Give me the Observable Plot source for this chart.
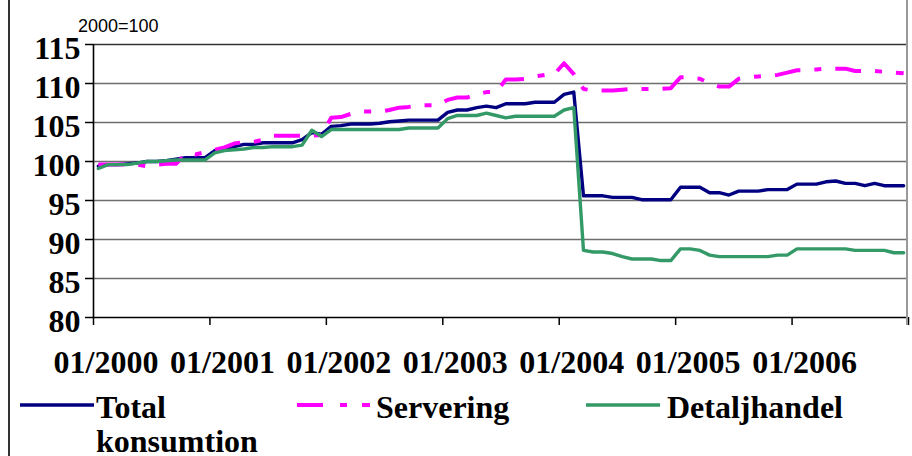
<!DOCTYPE html>
<html><head><meta charset="utf-8">
<script src="https://cdn.jsdelivr.net/npm/d3@7"></script>
<script src="https://cdn.jsdelivr.net/npm/@observablehq/plot@0.6"></script>
<style>
body{margin:0;background:#fff;}
#wrap{position:relative;width:912px;height:456px;overflow:hidden;background:#fff;}
.vline{position:absolute;width:2px;}
#unit{position:absolute;left:78px;top:17px;font:18px/18px "Liberation Sans",Arial,sans-serif;color:#000;}
.leg{position:absolute;top:390px;font:bold 32px/34px "Liberation Serif","Times New Roman",serif;color:#000;}
.sw{position:absolute;top:400px;}
</style></head><body>
<div id="wrap">
  <div id="chart"></div>
  <div class="vline" style="left:8px;top:0;height:456px;background:#333"></div>
  <div class="vline" style="left:906px;top:0;height:325px;background:#999"></div>
  <div id="unit">2000=100</div>
</div>
<script>
const seriesNames = ["Total konsumtion", "Servering", "Detaljhandel"];
const seriesColors = ["#000080", "#ff00ff", "#339966"];
const xLabels = ["01/2000","01/2001","01/2002","01/2003","01/2004","01/2005","01/2006"];
const yTicks = [80, 85, 90, 95, 100, 105, 110, 115];

const total = [
99.4, 99.6, 99.6, 99.7, 99.8, 100.0, 100.0, 100.1, 100.3, 100.5, 100.5, 100.5,
101.4, 101.7, 101.9, 102.2, 102.2, 102.4, 102.4, 102.4, 102.4, 102.8, 103.7, 103.5,
104.5, 104.6, 104.8, 104.8, 104.8, 104.9, 105.1, 105.2, 105.3, 105.3, 105.3, 105.3,
106.3, 106.6, 106.6, 106.9, 107.1, 106.9, 107.4, 107.4, 107.4, 107.6, 107.6, 107.6,
108.6, 108.9, 95.6, 95.6, 95.6, 95.4, 95.4, 95.4, 95.1, 95.1, 95.1, 95.1,
96.7, 96.7, 96.7, 96.0, 96.0, 95.7, 96.2, 96.2, 96.2, 96.4, 96.4, 96.4,
97.1, 97.1, 97.1, 97.4, 97.5, 97.2, 97.2, 96.9, 97.2, 96.9, 96.9, 96.9];

const servering = [
99.6, 99.6, 99.6, 99.6, 99.6, 99.4, 99.6, 99.7, 99.7, 101.0, 100.9, 101.2,
101.5, 101.8, 102.3, 102.5, 102.5, 102.8, 103.3, 103.3, 103.3, 103.3, 103.3, 103.4,
105.6, 105.7, 106.1, 106.4, 106.4, 106.4, 106.6, 106.9, 107.0, 107.2, 107.2, 107.2,
107.9, 108.2, 108.2, 108.6, 108.9, 108.9, 110.5, 110.5, 110.6, 110.9, 111.1, 111.2,
112.6, 111.2, 109.3, 109.1, 109.1, 109.1, 109.2, 109.3, 109.3, 109.3, 109.3, 109.4,
110.8, 110.8, 110.6, 110.0, 109.6, 109.6, 110.6, 110.8, 110.9, 111.0, 111.1, 111.4,
111.7, 111.7, 111.8, 111.9, 111.9, 111.9, 111.6, 111.6, 111.6, 111.5, 111.4, 111.3];

const detaljhandel = [
99.1, 99.6, 99.6, 99.6, 99.8, 100.0, 100.0, 100.1, 100.2, 100.2, 100.2, 100.2,
101.1, 101.4, 101.5, 101.6, 101.8, 101.8, 101.9, 101.9, 101.9, 102.1, 104.0, 103.2,
104.1, 104.1, 104.1, 104.1, 104.1, 104.1, 104.1, 104.1, 104.3, 104.3, 104.3, 104.3,
105.5, 105.9, 105.9, 105.9, 106.2, 105.9, 105.6, 105.8, 105.8, 105.8, 105.8, 105.8,
106.6, 106.9, 88.6, 88.4, 88.4, 88.2, 87.8, 87.5, 87.5, 87.5, 87.3, 87.3,
88.8, 88.8, 88.6, 88.0, 87.8, 87.8, 87.8, 87.8, 87.8, 87.8, 88.0, 88.0,
88.8, 88.8, 88.8, 88.8, 88.8, 88.8, 88.6, 88.6, 88.6, 88.6, 88.3, 88.3];

const nMonths = total.length;
const rows = arr => arr.map((v, i) => ({m: i + 0.5, v}));
const tickPos = d3.range(0, nMonths + 1, 12);
const labelPos = xLabels.map((_, k) => k * 12);
const dash = "26,14,7,14";

const chart = Plot.plot({
  width: 912, height: 380,
  marginTop: 44, marginBottom: 63, marginLeft: 93, marginRight: 4,
  style: {fontFamily: "'Liberation Serif','Times New Roman',serif", fontSize: "32px", fontWeight: "bold", color: "#000", background: "transparent", overflow: "visible"},
  x: {domain: [0, nMonths], axis: null},
  y: {domain: [80, 115], axis: null},
  marks: [
    Plot.ruleY(yTicks.filter(t => t > 80 && t < 115), {stroke: "#6e6e6e", strokeWidth: 1.6}),
    Plot.ruleY([115], {stroke: "#333", strokeWidth: 1.6}),
    Plot.axisY(yTicks, {label: null, tickSize: 8, tickFormat: () => "", strokeWidth: 1.5}),
    Plot.axisY(yTicks, {label: null, tickSize: 0, tickPadding: 13, dy: 4}),
    Plot.axisX(tickPos, {label: null, tickSize: 8, tickFormat: () => "", strokeWidth: 1.5}),
    Plot.axisX(labelPos, {label: null, tickSize: 0, tickPadding: 33, dx: 12.5, tickFormat: d => xLabels[d / 12]}),
    Plot.line(rows(total), {x: "m", y: "v", stroke: seriesColors[0], strokeWidth: 3.4}),
    Plot.line(rows(servering), {x: "m", y: "v", stroke: seriesColors[1], strokeWidth: 4, strokeDasharray: dash, strokeLinecap: "butt"}),
    Plot.line(rows(detaljhandel), {x: "m", y: "v", stroke: seriesColors[2], strokeWidth: 3.4}),
    Plot.ruleY([80], {stroke: "#000", strokeWidth: 1.6}),
    Plot.ruleX([0], {stroke: "#000", strokeWidth: 1.6})
  ]
});
document.getElementById("chart").appendChild(chart);

// legend below the plot
const wrap = document.getElementById("wrap");
const swX = [20, 297, 586];
const txX = [96, 376, 667];
const txW = [180, 200, 230];
seriesNames.forEach((name, k) => {
  const sw = document.createElementNS("http://www.w3.org/2000/svg", "svg");
  sw.setAttribute("class", "sw");
  sw.setAttribute("width", 74); sw.setAttribute("height", 10);
  sw.style.left = swX[k] + "px";
  const ln = document.createElementNS("http://www.w3.org/2000/svg", "line");
  ln.setAttribute("x1", 0); ln.setAttribute("x2", 74);
  ln.setAttribute("y1", 5); ln.setAttribute("y2", 5);
  ln.setAttribute("stroke", seriesColors[k]);
  ln.setAttribute("stroke-width", k === 1 ? 4 : 3.4);
  if (k === 1) ln.setAttribute("stroke-dasharray", "26,17,7,15,8");
  sw.appendChild(ln);
  wrap.appendChild(sw);
  const t = document.createElement("div");
  t.className = "leg";
  t.style.left = txX[k] + "px";
  t.style.width = txW[k] + "px";
  t.textContent = name;
  wrap.appendChild(t);
});
</script>
</body></html>
